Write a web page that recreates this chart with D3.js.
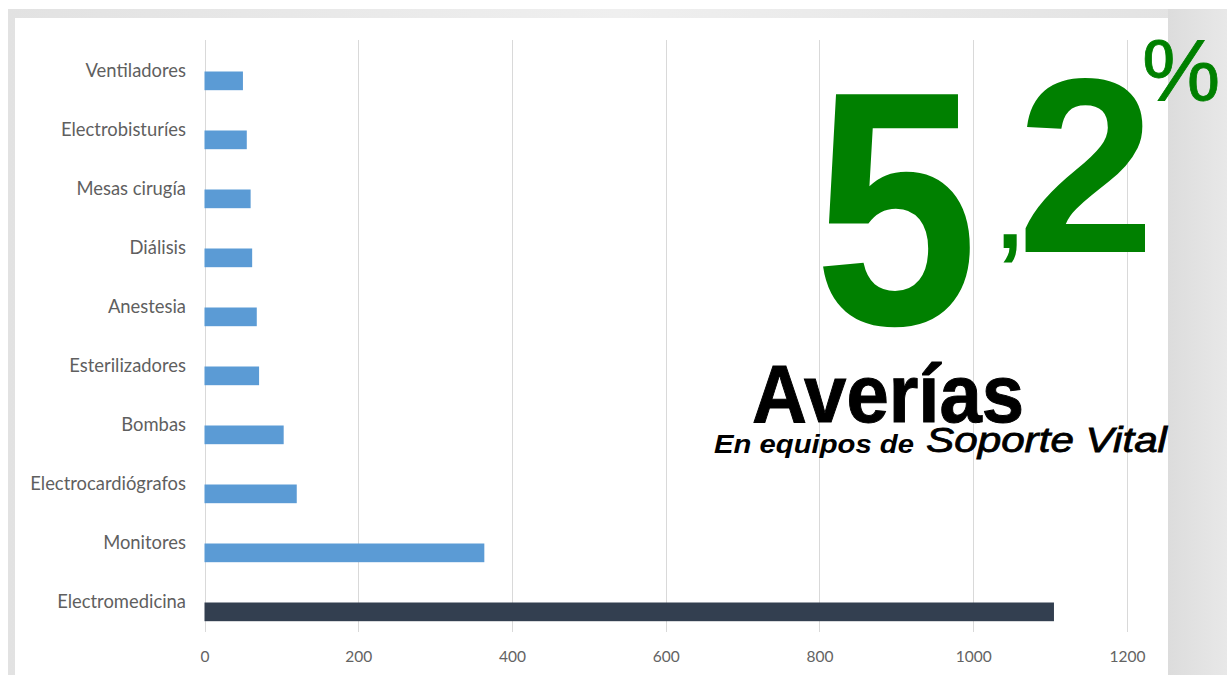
<!DOCTYPE html>
<html><head><meta charset="utf-8">
<script src="https://cdn.jsdelivr.net/npm/d3@7"></script>
<style>
html,body{margin:0;padding:0;background:#fff;}
svg{display:block;}
</style></head>
<body>
<svg id="chart" width="1227" height="675"></svg>
<script>
const categories = ["Ventiladores","Electrobisturíes","Mesas cirugía","Diálisis","Anestesia","Esterilizadores","Bombas","Electrocardiógrafos","Monitores","Electromedicina"];
const values = [50, 55, 60, 62, 68, 71, 103, 120, 364, 1105];
const highlight = "Electromedicina";
const tickValues = [0, 200, 400, 600, 800, 1000, 1200];
const seriesSlots = ["(vacía)", "Averías"];
const bigNumber = "5";
const bigDecimal = "2";
const decimalSep = ",";
const pctSign = "%";
const title = "Averías";
const subtitleA = "En equipos de ";
const subtitleB = "Soporte Vital";

const svg = d3.select("#chart");
const W = 1227, H = 675;

// background frame
const defs = svg.append("defs");
const g1 = defs.append("linearGradient").attr("id","topband").attr("x1",0).attr("x2",1).attr("y1",0).attr("y2",0);
g1.append("stop").attr("offset","0%").attr("stop-color","#e2e2e2");
g1.append("stop").attr("offset","50%").attr("stop-color","#efefef");
g1.append("stop").attr("offset","100%").attr("stop-color","#e2e2e2");
const g2 = defs.append("linearGradient").attr("id","rightband").attr("x1",0).attr("x2",1).attr("y1",0).attr("y2",0);
g2.append("stop").attr("offset","0%").attr("stop-color","#dcdcdc");
g2.append("stop").attr("offset","100%").attr("stop-color","#e8e8e8");

svg.append("rect").attr("x",0).attr("y",0).attr("width",W).attr("height",H).attr("fill","#ffffff");
svg.append("rect").attr("x",8).attr("y",9).attr("width",W-8).attr("height",H-9).attr("fill","url(#topband)");
svg.append("rect").attr("x",1168).attr("y",9).attr("width",W-1168).attr("height",H-9).attr("fill","url(#rightband)");
svg.append("rect").attr("x",15).attr("y",18).attr("width",1168-15).attr("height",H-18).attr("fill","#ffffff");

// scales
const x = d3.scaleLinear().domain([0,1200]).range([204.5,1127]);
const y = d3.scaleBand().domain(categories).range([42,632]).padding(0);
const ySlot = d3.scaleBand().domain(seriesSlots).range([0,y.bandwidth()]).paddingInner(0).paddingOuter(0.578);

// gridlines
const grid = svg.append("g");
grid.selectAll("line").data(tickValues).join("line")
  .attr("x1",d=>Math.round(x(d))+0.5).attr("x2",d=>Math.round(x(d))+0.5)
  .attr("y1",40).attr("y2",632)
  .attr("stroke","#d9d9d9").attr("stroke-width",1);

// x axis labels
const xAxis = d3.axisBottom(x).tickValues(tickValues).tickSize(0).tickPadding(0).tickFormat(d3.format("d"));
const xa = svg.append("g").attr("transform","translate(0,650)").call(xAxis);
xa.select(".domain").remove();
xa.selectAll("text").attr("font-family","Lato, 'Open Sans', sans-serif").attr("font-size",15.5).attr("fill","#636363")
  .attr("dy","0.75em").attr("y",0);

// y labels
const ya = svg.append("g").attr("transform","translate(186,0)")
  .call(d3.axisLeft(y).tickSize(0).tickPadding(0));
ya.select(".domain").remove();
ya.selectAll("text").attr("font-family","Lato, 'Open Sans', sans-serif").attr("font-size",18.4).attr("fill","#5f5f5f");

// bars
svg.append("g").selectAll("rect").data(categories.map((c,i)=>({c, v:values[i]}))).join("rect")
  .attr("x",x(0))
  .attr("y",d=>y(d.c)+ySlot("Averías"))
  .attr("width",d=>x(d.v)-x(0))
  .attr("height",ySlot.bandwidth())
  .attr("fill",d=>d.c===highlight?"#333f50":"#5b9bd5");

// big annotation
const green = "#008000";
const big = svg.append("g").attr("font-family","'Liberation Sans', Arial, sans-serif");
big.append("text").attr("x",896).attr("y",324).attr("text-anchor","middle")
  .attr("font-size",334).attr("font-weight","bold").attr("fill",green)
  .attr("textLength",164).attr("lengthAdjust","spacingAndGlyphs").text(bigNumber);
big.append("text").attr("x",1010).attr("y",248).attr("text-anchor","middle")
  .attr("font-size",92).attr("font-weight","bold").attr("fill",green).text(decimalSep);
big.append("text").attr("x",1086).attr("y",252).attr("text-anchor","middle")
  .attr("font-size",248).attr("font-weight","bold").attr("fill",green).text(bigDecimal);
big.append("text").attr("x",1181).attr("y",100).attr("text-anchor","middle")
  .attr("font-size",88).attr("fill",green).attr("stroke",green).attr("stroke-width",0.8).text(pctSign);

big.append("text").attr("x",752).attr("y",422)
  .attr("font-size",82).attr("font-weight","bold").attr("fill","#000").attr("stroke","#000").attr("stroke-width",1)
  .attr("textLength",272).attr("lengthAdjust","spacingAndGlyphs").text(title);
big.append("text").attr("x",714).attr("y",453)
  .attr("font-size",25).attr("font-weight","bold").attr("font-style","italic").attr("fill","#000")
  .attr("textLength",200).attr("lengthAdjust","spacingAndGlyphs").text(subtitleA);
big.append("text").attr("x",926).attr("y",452)
  .attr("font-size",35).attr("font-style","italic").attr("fill","#000")
  .attr("stroke","#000").attr("stroke-width",0.8)
  .attr("textLength",241).attr("lengthAdjust","spacingAndGlyphs").text(subtitleB);
</script>
</body></html>
